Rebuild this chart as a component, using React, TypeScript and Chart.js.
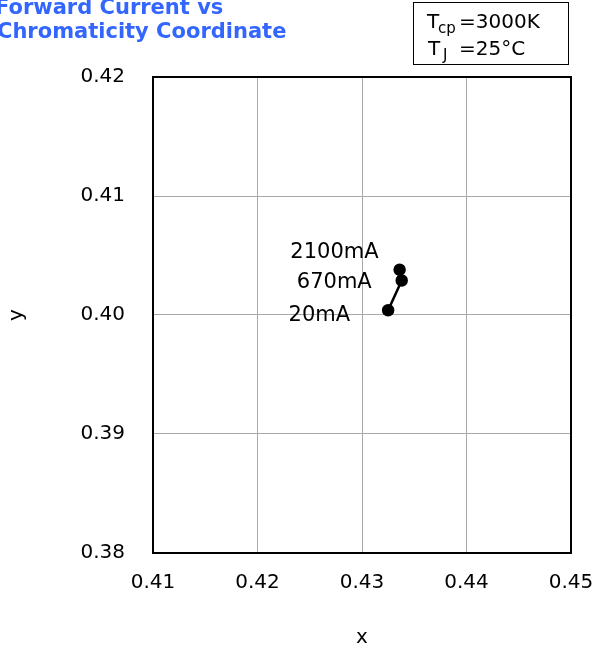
import React, { useEffect, useRef } from "react";
import { Chart, registerables } from "chart.js";

Chart.register(...registerables);

const currents = ["20mA", "670mA", "2100mA"];
const xValues = [0.4325, 0.4338, 0.4336];
const yValues = [0.4004, 0.4029, 0.4038];
const xTicks = [0.41, 0.42, 0.43, 0.44, 0.45];
const yTicks = [0.38, 0.39, 0.4, 0.41, 0.42];
const titleLines = ["Forward Current vs", "Chromaticity Coordinate"];

const FONT = "'DejaVu Sans', Verdana, sans-serif";

const decorPlugin = {
  id: "decor",
  afterDraw(chart: any) {
    const { ctx, chartArea } = chart;
    const xs = chart.scales.x;
    const ys = chart.scales.y;
    ctx.save();
    // plot border
    ctx.strokeStyle = "#000";
    ctx.lineWidth = 2;
    ctx.strokeRect(chartArea.left, chartArea.top, chartArea.right - chartArea.left, chartArea.bottom - chartArea.top);

    // point labels
    ctx.fillStyle = "#000";
    ctx.font = `21px ${FONT}`;
    ctx.textAlign = "right";
    ctx.textBaseline = "middle";
    const offsets = [[-38, 5], [-30, 2], [-21, -17]];
    for (let i = 0; i < currents.length; i++) {
      const px = xs.getPixelForValue(xValues[i]);
      const py = ys.getPixelForValue(yValues[i]);
      ctx.fillText(currents[i], px + offsets[i][0], py + offsets[i][1]);
    }

    // axis titles
    ctx.font = `20px ${FONT}`;
    ctx.textAlign = "center";
    ctx.fillText("x", (chartArea.left + chartArea.right) / 2, 638);
    ctx.save();
    ctx.translate(17, (chartArea.top + chartArea.bottom) / 2);
    ctx.rotate(-Math.PI / 2);
    ctx.fillText("y", 0, 0);
    ctx.restore();

    // chart title
    ctx.fillStyle = "#3366ff";
    ctx.font = `bold 21px ${FONT}`;
    ctx.textAlign = "left";
    ctx.textBaseline = "alphabetic";
    ctx.fillText(titleLines[0], -5, 14);
    ctx.fillText(titleLines[1], -3, 38);

    // condition box
    ctx.strokeStyle = "#000";
    ctx.lineWidth = 1;
    ctx.strokeRect(413.5, 2.5, 155, 62);
    ctx.fillStyle = "#000";
    ctx.font = `20px ${FONT}`;
    ctx.fillText("T", 427, 28);
    ctx.font = `15px ${FONT}`;
    ctx.fillText("cp", 438, 33);
    ctx.font = `20px ${FONT}`;
    ctx.fillText("=3000K", 459, 28);
    ctx.fillText("T", 428, 55);
    ctx.font = `15px ${FONT}`;
    ctx.fillText("J", 443, 60);
    ctx.font = `20px ${FONT}`;
    ctx.fillText("=25°C", 459, 55);
    ctx.restore();
  },
};

export default function App() {
  const ref = useRef<HTMLCanvasElement>(null);
  useEffect(() => {
    const chart = new Chart(ref.current as HTMLCanvasElement, {
      type: "scatter",
      data: {
        datasets: [
          {
            data: xValues.map((x, i) => ({ x, y: yValues[i] })),
            showLine: true,
            borderColor: "#000",
            backgroundColor: "#000",
            borderWidth: 2.5,
            pointRadius: 5,
            pointBackgroundColor: "#000",
            pointBorderColor: "#000",
          },
        ],
      },
      options: {
        animation: false,
        responsive: false,
        devicePixelRatio: 1,
        layout: { padding: { left: 0, top: 77, right: 21, bottom: 0 } },
        plugins: { legend: { display: false }, tooltip: { enabled: false } },
        scales: {
          x: {
            type: "linear",
            min: 0.41,
            max: 0.45,
            afterBuildTicks: (s: any) => {
              s.ticks = xTicks.map((v) => ({ value: v }));
            },
            afterFit: (s: any) => {
              s.height = 97;
              s.paddingLeft = 0;
              s.paddingRight = 0;
            },
            ticks: {
              color: "#000",
              font: { family: FONT, size: 20 },
              padding: 18,
              maxRotation: 0,
              callback: (v: any) => Number(v).toFixed(2),
            },
            grid: { color: "#a8a8a8", lineWidth: 1, drawTicks: false },
            border: { display: false },
          },
          y: {
            type: "linear",
            min: 0.38,
            max: 0.42,
            afterBuildTicks: (s: any) => {
              s.ticks = yTicks.map((v) => ({ value: v }));
            },
            afterFit: (s: any) => {
              s.width = 153;
              s.paddingTop = 0;
              s.paddingBottom = 0;
            },
            ticks: {
              color: "#000",
              font: { family: FONT, size: 20 },
              padding: 28,
              callback: (v: any) => Number(v).toFixed(2),
            },
            grid: { color: "#a8a8a8", lineWidth: 1, drawTicks: false },
            border: { display: false },
          },
        },
      },
      plugins: [decorPlugin],
    });
    return () => chart.destroy();
  }, []);
  return (
    <div style={{ position: "absolute", left: 0, top: 0, width: 592, height: 650, background: "#fff" }}>
      <canvas ref={ref} width={592} height={650} style={{ display: "block" }} />
    </div>
  );
}
